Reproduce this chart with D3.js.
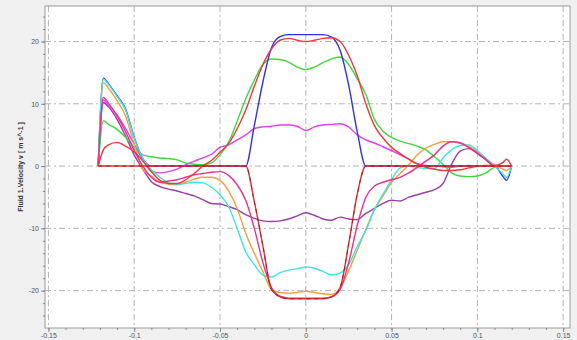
<!DOCTYPE html>
<html>
<head>
<meta charset="utf-8">
<script src="https://cdn.jsdelivr.net/npm/d3@7"></script>
<style>
  body { margin: 0; background: #f0f0f0; }
  svg { display: block; font-family: "Liberation Sans", Arial, sans-serif; }
  .grid line { stroke: #b4b4b4; stroke-dasharray: 6,3,2,3; }
  .axis text { fill: #555; font-size: 7px; }
  .axis path, .axis line { stroke: #888; }
</style>
</head>
<body>
<svg id="chart" width="577" height="340"></svg>
<script>
// position along the line (m)
const xs = [-0.121, -0.118, -0.115, -0.11, -0.105, -0.1, -0.095, -0.09, -0.085, -0.08,
  -0.075, -0.07, -0.065, -0.06, -0.055, -0.05, -0.045, -0.04, -0.035, -0.03,
  -0.025, -0.02, -0.015, -0.01, -0.005, 0, 0.005, 0.01, 0.015, 0.02,
  0.025, 0.03, 0.035, 0.04, 0.045, 0.05, 0.055, 0.06, 0.065, 0.07,
  0.075, 0.08, 0.085, 0.09, 0.095, 0.1, 0.105, 0.11, 0.115, 0.117, 0.12];

// velocity v (m s^-1) for each profile
const vPurple = [0, 10.2, 9.5, 7.5, 4.8, 1.8, -0.5, -2.5, -3.3, -3.7,
  -4, -4.4, -4.8, -5.4, -6, -6.1, -6.5, -7, -7.8, -8.4,
  -8.8, -8.9, -8.8, -8.5, -8, -7.5, -7.9, -8.5, -8.7, -8.2,
  -8.5, -8.6, -7.6, -6.8, -6, -5.5, -5.6, -5, -4.6, -4.2,
  -3.8, -2.8, 0.3, 2.4, 2.8, 2, 1, 0, 0, 0, 0];
const vMagenta = [0, 10.6, 9.8, 8.2, 6, 3.5, 1, -0.8, -1.1, -0.9,
  -0.5, 0.2, 0.8, 1.3, 1.9, 3, 3.4, 4.2, 5, 6,
  6.3, 6.4, 6.6, 6.6, 6.4, 5.7, 6.3, 6.6, 6.7, 6.8,
  6.3, 5, 4.2, 3.7, 3.1, 2.5, 1.8, 1.1, 0.4, 0.1,
  0, -0.1, -0.2, 0, 0.1, 0, 0, 0, 0, 0, 0];
const vGreen = [0, 7.3, 6.7, 5.9, 4.6, 3, 1.8, 1.5, 1.3, 1.2,
  1, 0.5, 0.3, 0.2, 0.5, 1.8, 3.8, 7.2, 10.8, 13.8,
  16.3, 17.2, 17.1, 16.7, 15.9, 15.5, 15.9, 16.6, 17.2, 17.5,
  16.3, 14, 11.5, 7.5, 5.6, 4.6, 4, 3.6, 3.2, 2.6,
  1.5, 0.3, -1.1, -1.6, -1.7, -1.6, -1.1, -0.2, 0, 0, 0];
const vOrange = [0, 13.4, 12.5, 10.5, 8, 3.5, -0.5, -1.6, -2.6, -2.9,
  -3, -2.6, -2.1, -1.8, -1.8, -2.3, -4, -6.8, -10.8, -14,
  -17, -19.8, -20.3, -20.4, -20.3, -20.1, -20.3, -20.5, -20.6, -19.6,
  -16.8, -13.5, -10.2, -7, -4.8, -2.6, -1.2, 0.2, 1.8, 2.9,
  3.5, 3.9, 3.9, 3.7, 3.2, 2.3, 1.2, 0.2, -0.5, -0.7, 0];
const vCyan = [0, 14, 13.1, 11.2, 9, 4.5, 1.2, -0.6, -1.8, -2.7,
  -2.9, -2.8, -2.6, -2.7, -3.4, -4.6, -6.5, -10, -13.8, -15.8,
  -17.5, -17.8, -17.1, -16.7, -16.5, -16.2, -16.4, -16.9, -17.5, -17.2,
  -15.8, -12.9, -10.3, -7, -4.5, -2.2, -0.3, 0, -0.2, -0.4,
  -0.4, 1.3, 2.6, 3.3, 3.4, 2.5, 1.2, 0, -1.3, -1.8, 0];
const vPink = [0, 11, 10.1, 8, 5.5, 2.5, 0, -1.8, -2.6, -2.4,
  -2.2, -1.8, -1.4, -1.2, -1, -0.9, -1.5, -3, -5.5, -10,
  -15.5, -19.5, -20.9, -21.2, -21.2, -21.2, -21.2, -21.2, -21, -19.8,
  -15.5, -9.5, -5, -3.2, -2.6, -2.2, -1.8, -1.1, -0.2, 0.8,
  1.8, 3.2, 3.9, 3.7, 3, 2.1, 1.1, 0, 0, 0, 0];
const vRed = [0, 2.6, 3.4, 3.8, 3.2, 2.3, 0.8, -0.9, -2.3, -2.8,
  -2.8, -2.2, -1.2, 0, 0.9, 2.2, 3.6, 6, 9, 12.8,
  16.3, 18.8, 20.2, 20.5, 20.2, 20, 20.2, 20.5, 20.6, 20,
  17.8, 14.5, 10, 6.5, 4.5, 3, 2, 1.1, 0.3, -0.2,
  -0.5, -0.7, -0.7, -0.6, -0.3, 0, 0.1, 0.1, 0.6, 1.1, 0];
const vBlue = [0, 14.1, 13.2, 11.3, 9.1, 4.6, 1.2, 0, 0, 0,
  0, 0, 0, 0, 0, 0, 0, 0, 0, 6.5,
  13.5, 19, 20.8, 21.1, 21.1, 21.1, 21.1, 21.1, 20.7, 18.6,
  13, 5.5, 0, 0, 0, 0, 0, 0, 0, 0,
  0, 0, 0, 0, 0, 0, 0, 0, -1.7, -2.3, 0];
const vRedHat = [0, 0, 0, 0, 0, 0, 0, 0, 0, 0,
  0, 0, 0, 0, 0, 0, 0, 0, 0, -5.7,
  -12.8, -19.8, -21, -21.3, -21.3, -21.3, -21.3, -21.3, -21, -19.5,
  -12.5, -4.5, 0, 0, 0, 0, 0, 0, 0, 0,
  0, 0, 0, 0, 0, 0, 0, 0, 0, 0, 0];

// draw order: last one on top
const seriesList = [
  { values: vPurple, color: "#9a3fa8" },
  { values: vMagenta, color: "#e040e8" },
  { values: vGreen, color: "#3fd83f" },
  { values: vBlue, color: "#3030e0" },
  { values: vOrange, color: "#f2a040" },
  { values: vCyan, color: "#3fe3e3" },
  { values: vPink, color: "#e8308c" },
  { values: vRed, color: "#e83a3a" },
  { values: vRedHat, color: "#e83030", dash: "#8a2020" }
];

const xTicks = [-0.15, -0.1, -0.05, 0, 0.05, 0.1, 0.15];
const xTickLabels = ["-0.15", "-0.1", "-0.05", "0", "0.05", "0.1", "0.15"];
const yTicks = [-20, -10, 0, 10, 20];
const yTickLabels = ["-20", "-10", "0", "10", "20"];

const plotLeft = 45, plotRight = 570, plotTop = 6, plotBottom = 328;

const svg = d3.select("#chart");

const xScale = d3.scaleLinear().domain([-0.152, 0.154]).range([plotLeft, plotRight]);
const yScale = d3.scaleLinear().domain([-26, 25.7]).range([plotBottom, plotTop]);

// plot area
svg.append("rect")
  .attr("x", plotLeft).attr("y", plotTop)
  .attr("width", plotRight - plotLeft).attr("height", plotBottom - plotTop)
  .attr("fill", "#fff");

// grid
svg.append("g").attr("class", "grid")
  .selectAll("line").data(xTicks).enter().append("line")
  .attr("x1", d => xScale(d)).attr("x2", d => xScale(d))
  .attr("y1", plotTop).attr("y2", plotBottom);
svg.append("g").attr("class", "grid")
  .selectAll("line").data(yTicks).enter().append("line")
  .attr("x1", plotLeft).attr("x2", plotRight)
  .attr("y1", d => yScale(d)).attr("y2", d => yScale(d));

// frame
svg.append("rect")
  .attr("x", plotLeft).attr("y", plotTop)
  .attr("width", plotRight - plotLeft).attr("height", plotBottom - plotTop)
  .attr("fill", "none").attr("stroke", "#9a9a9a");

// axes
const xAxis = d3.axisBottom(xScale)
  .tickValues(xTicks)
  .tickFormat((d, i) => xTickLabels[i])
  .tickSize(4).tickPadding(1);
const xMinor = d3.axisBottom(xScale)
  .tickValues(d3.range(-15, 16).map(k => k / 100))
  .tickFormat("").tickSize(2);
const yAxis = d3.axisLeft(yScale)
  .tickValues(yTicks)
  .tickFormat((d, i) => yTickLabels[i])
  .tickSize(4).tickPadding(2);
const yMinor = d3.axisLeft(yScale)
  .tickValues(d3.range(-24, 25, 2))
  .tickFormat("").tickSize(2);

svg.append("g").attr("class", "axis")
  .attr("transform", `translate(0, ${plotBottom})`).call(xMinor)
  .select(".domain").remove();
svg.append("g").attr("class", "axis")
  .attr("transform", `translate(0, ${plotBottom})`).call(xAxis)
  .select(".domain").remove();
svg.append("g").attr("class", "axis")
  .attr("transform", `translate(${plotLeft}, 0)`).call(yMinor)
  .select(".domain").remove();
svg.append("g").attr("class", "axis")
  .attr("transform", `translate(${plotLeft}, 0)`).call(yAxis)
  .select(".domain").remove();

// y label
svg.append("text")
  .attr("transform", `translate(23, ${(plotTop + plotBottom) / 2}) rotate(-90)`)
  .attr("text-anchor", "middle")
  .attr("font-size", "7px")
  .attr("font-weight", "bold")
  .attr("fill", "#333")
  .text("Fluid 1.Velocity v [ m s^-1 ]");

// lines
const line = d3.line()
  .x((d, i) => xScale(xs[i]))
  .y(d => yScale(d))
  .curve(d3.curveMonotoneX);

const plot = svg.append("g");
seriesList.forEach(s => {
  plot.append("path")
    .datum(s.values)
    .attr("fill", "none")
    .attr("stroke", s.color)
    .attr("stroke-width", 1.4)
    .attr("d", line);
  if (s.dash) {
    plot.append("path")
      .datum(s.values)
      .attr("fill", "none")
      .attr("stroke", s.dash)
      .attr("stroke-width", 0.9)
      .attr("stroke-dasharray", "4,4")
      .attr("d", line);
  }
});
</script>
</body>
</html>
